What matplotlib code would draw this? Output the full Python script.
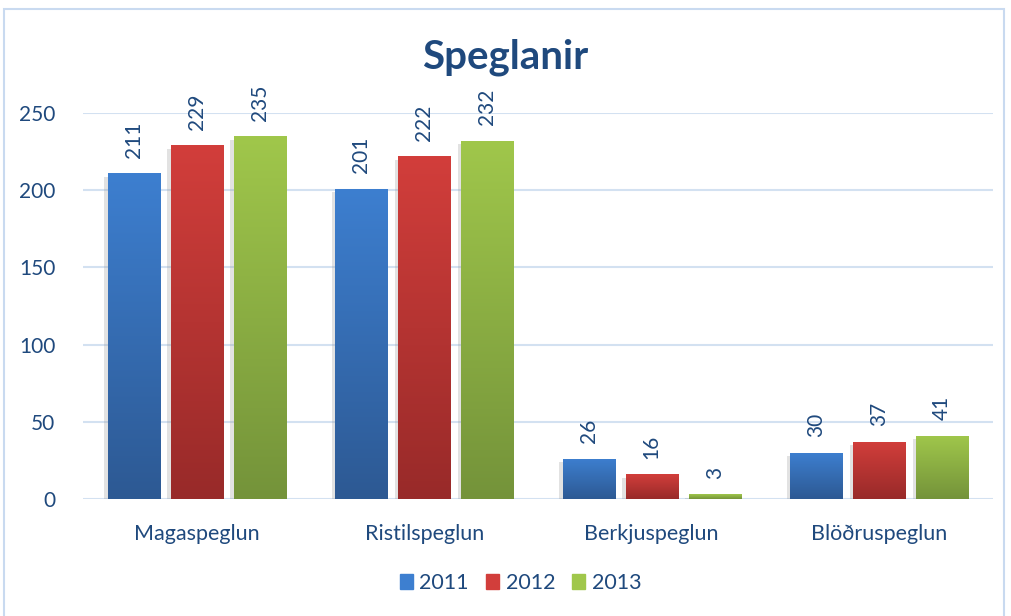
import numpy as np
import matplotlib
matplotlib.use("Agg")
from matplotlib import pyplot as plt
from matplotlib import patheffects as pe
from matplotlib.patches import Rectangle
from matplotlib.colors import LinearSegmentedColormap

plt.rcParams["font.family"] = ["Lato", "DejaVu Sans"]

categories = ["Magaspeglun", "Ristilspeglun", "Berkjuspeglun", "Blöðruspeglun"]
years = ["2011", "2012", "2013"]
v2011 = [211, 201, 26, 30]
v2012 = [229, 222, 16, 37]
v2013 = [235, 232, 3, 41]
series = [v2011, v2012, v2013]

# (top, bottom) gradient colours per series
grads = [("#3d7fd0", "#2d5993"), ("#d23e3b", "#982a29"), ("#a0c74b", "#74933a")]
text_col = "#1f497d"
grid_col = "#d3e1f1"

fig = plt.figure(figsize=(10.11, 6.16), dpi=100)
ax = fig.add_axes([83 / 1011, 117 / 616, 910 / 1011, 386 / 616])

# frame around the chart
fig.patches.append(Rectangle((4 / 1011, -0.05), 1000 / 1011, 1.0 - 9 / 616 + 0.05,
                             transform=fig.transFigure, fill=False,
                             edgecolor="#c9daf0", linewidth=1.5))

x = np.arange(len(categories))
width = 0.2286
step = 0.277
grad = np.linspace(0, 1, 256).reshape(-1, 1)

for i, (vals, (top, bot)) in enumerate(zip(series, grads)):
    pos = x + (i - 1) * step
    bars = ax.bar(pos, vals, width, color=top, label=years[i], zorder=3,
                  path_effects=[pe.SimplePatchShadow(offset=(-2.5, -2.5), shadow_rgbFace="#999999", alpha=0.28),
                                pe.Normal()])
    cmap = LinearSegmentedColormap.from_list("g%d" % i, [bot, top])
    for b, v in zip(bars, vals):
        x0 = b.get_x()
        im = ax.imshow(grad, cmap=cmap, aspect="auto", origin="lower",
                       extent=(x0, x0 + b.get_width(), 0, v), zorder=4)
        im.set_clip_path(b)
        ax.text(b.get_x() + b.get_width() / 2, v + 10, str(v), rotation=90,
                ha="center", va="bottom", color=text_col, fontsize=15, zorder=5,
                clip_on=False)

ax.set_xlim(-0.5, 3.5)
ax.set_ylim(0, 250)
ax.set_yticks([0, 50, 100, 150, 200, 250])
ax.set_xticks(x)
ax.set_xticklabels(categories)
ax.tick_params(axis="both", length=0, colors=text_col, labelsize=15.5)
ax.tick_params(axis="y", pad=20, labelsize=15)
ax.tick_params(axis="x", pad=18)
ax.grid(axis="y", color=grid_col, linewidth=1.5, zorder=0)
ax.set_axisbelow(True)
for s in ax.spines.values():
    s.set_visible(False)

fig.text(0.5, 1 - 57 / 616, "Speglanir", ha="center", va="center",
         fontsize=29, fontweight="bold", color=text_col)

handles = [Rectangle((0, 0), 1, 1, color=top) for top, bot in grads]
leg = fig.legend(handles, years, loc="center", bbox_to_anchor=(0.515, 1 - 583 / 616),
                 ncol=3, frameon=False, fontsize=15.5, handlelength=0.6, handleheight=0.75,
                 handletextpad=0.3, columnspacing=0.8)
for t in leg.get_texts():
    t.set_color(text_col)

fig.savefig("out.png", dpi=100)
